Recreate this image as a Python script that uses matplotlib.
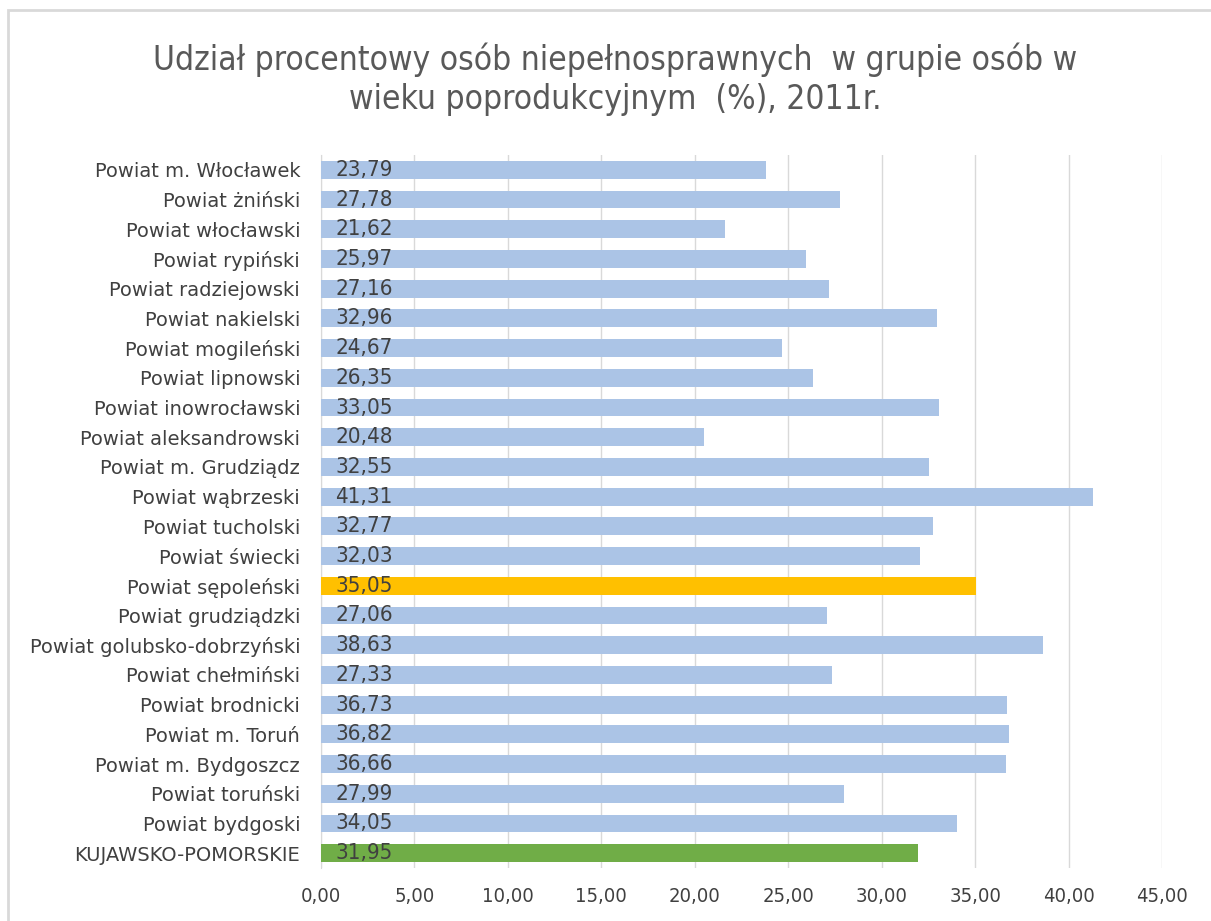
import matplotlib
matplotlib.use('Agg')
import matplotlib.pyplot as plt
import numpy as np
from matplotlib.patches import Rectangle
from matplotlib.ticker import FuncFormatter

plt.rcParams['font.family'] = ['DejaVu Sans']
plt.rcParams['font.stretch'] = 'condensed'

# dane: od góry do dołu
powiaty = ['Powiat m. Włocławek', 'Powiat żniński', 'Powiat włocławski', 'Powiat rypiński',
           'Powiat radziejowski', 'Powiat nakielski', 'Powiat mogileński', 'Powiat lipnowski',
           'Powiat inowrocławski', 'Powiat aleksandrowski', 'Powiat m. Grudziądz', 'Powiat wąbrzeski',
           'Powiat tucholski', 'Powiat świecki', 'Powiat sępoleński', 'Powiat grudziądzki',
           'Powiat golubsko-dobrzyński', 'Powiat chełmiński', 'Powiat brodnicki', 'Powiat m. Toruń',
           'Powiat m. Bydgoszcz', 'Powiat toruński', 'Powiat bydgoski', 'KUJAWSKO-POMORSKIE']
udzial = [23.79, 27.78, 21.62, 25.97, 27.16, 32.96, 24.67, 26.35, 33.05, 20.48, 32.55, 41.31,
          32.77, 32.03, 35.05, 27.06, 38.63, 27.33, 36.73, 36.82, 36.66, 27.99, 34.05, 31.95]
xticks = [0, 5, 10, 15, 20, 25, 30, 35, 40, 45]

kolory = []
for p in powiaty:
    if p == 'Powiat sępoleński':
        kolory.append('#FFC000')
    elif p == 'KUJAWSKO-POMORSKIE':
        kolory.append('#70AD47')
    else:
        kolory.append('#ABC4E6')

fig = plt.figure(figsize=(12.11, 9.21), dpi=100)
ax = fig.add_axes([321 / 1211, 1 - 868 / 921, (1162 - 321) / 1211, (868 - 155) / 921])

y = np.arange(len(powiaty))
ax.barh(y, udzial, height=0.6, color=kolory, zorder=3)
ax.set_ylim(len(powiaty) - 0.5, -0.5)
ax.set_xlim(0, 45)
ax.set_xticks(xticks)
ax.xaxis.set_major_formatter(FuncFormatter(lambda v, pos: f'{v:.2f}'.replace('.', ',')))
ax.grid(axis='x', color='#D9D9D9', linewidth=1, zorder=0)
ax.set_yticks(y)
ax.set_yticklabels(powiaty, fontsize=14, color='#404040', fontstretch='normal')
ax.tick_params(axis='y', length=0, pad=15)
ax.tick_params(axis='x', length=0, pad=14, labelsize=14.5, labelcolor='#404040')
for s in ['top', 'right', 'bottom']:
    ax.spines[s].set_visible(False)
ax.spines['left'].set_color('#D9D9D9')

for yi, v in zip(y, udzial):
    ax.text(0.75, yi, f'{v:.2f}'.replace('.', ','), va='center', ha='left',
            fontsize=16, color='#404040', zorder=4)

fig.text(0.508, 1 - 60 / 921, 'Udział procentowy osób niepełnosprawnych  w grupie osób w',
         ha='center', va='center', fontsize=24, color='#595959')
fig.text(0.508, 1 - 100 / 921, 'wieku poprodukcyjnym  (%), 2011r.',
         ha='center', va='center', fontsize=24, color='#595959')

# ramka wykresu
fig.patches.append(Rectangle((8 / 1211, -0.1), 1.2, 1 - 10 / 921 + 0.1, transform=fig.transFigure,
                             fill=False, edgecolor='#D9D9D9', linewidth=2))

fig.savefig('out.png', dpi=100)
